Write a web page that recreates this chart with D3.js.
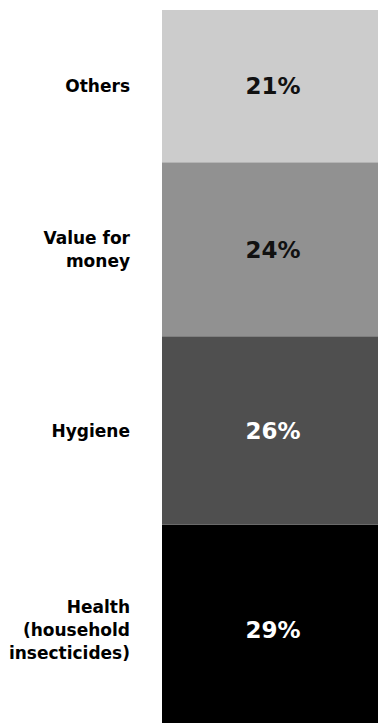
<!DOCTYPE html>
<html>
<head>
<meta charset="utf-8">
<script src="https://cdn.jsdelivr.net/npm/d3@7"></script>
<style>
  html, body { margin: 0; padding: 0; background: #fff; }
  svg { display: block; }
  text { font-family: "DejaVu Sans", sans-serif; font-weight: 700; }
</style>
</head>
<body>
<div id="chart"></div>
<script>
// Share of purchase drivers, stacked from the bottom up
const categories = ["Health (household insecticides)", "Hygiene", "Value for money", "Others"];
const labelLines = [["Health", "(household", "insecticides)"], ["Hygiene"], ["Value for", "money"], ["Others"]];
const shares = [29, 26, 24, 21];
const fills = ["#000000", "#4f4f4f", "#919191", "#cccccc"];
const valueColors = ["#ffffff", "#ffffff", "#111111", "#111111"];

const width = 378, height = 723;
const barLeft = 162, barRight = 378;

const svg = d3.select("#chart").append("svg")
  .attr("width", width).attr("height", height);

// cumulative stack, bottom segment first
const stacked = [];
let acc = 0;
shares.forEach((v, i) => {
  stacked.push({ cat: categories[i], lines: labelLines[i], value: v, y0: acc, y1: acc + v, i });
  acc += v;
});

const y = d3.scaleLinear().domain([0, 100]).range([735, 10]);
const x = d3.scaleLinear().domain([0, 1]).range([barLeft, barRight]);

const seg = svg.append("g").selectAll("g").data(stacked).join("g");

seg.append("rect")
  .attr("x", x(0))
  .attr("width", x(1) - x(0))
  .attr("y", d => y(d.y1))
  .attr("height", d => y(d.y0) - y(d.y1))
  .attr("fill", d => fills[d.i]);

seg.append("text")
  .attr("x", 273)
  .attr("y", d => y((d.y0 + d.y1) / 2))
  .attr("dy", "0.36em")
  .attr("text-anchor", "middle")
  .attr("font-size", 23)
  .attr("fill", d => valueColors[d.i])
  .text(d => d.value + "%");

const lineH = 23;
seg.append("text")
  .attr("text-anchor", "end")
  .attr("font-size", 17)
  .attr("fill", "#000")
  .each(function(d) {
    const mid = y((d.y0 + d.y1) / 2);
    const n = d.lines.length;
    d3.select(this).selectAll("tspan").data(d.lines).join("tspan")
      .attr("x", 130)
      .attr("y", (t, k) => mid + (k - (n - 1) / 2) * lineH)
      .attr("dy", "0.36em")
      .text(t => t);
  });
</script>
</body>
</html>
